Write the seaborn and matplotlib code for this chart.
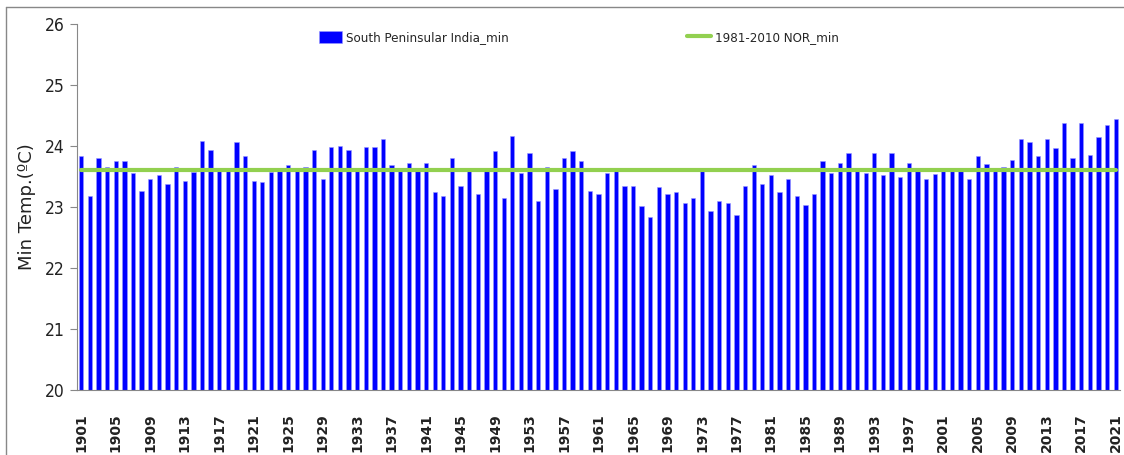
import matplotlib
matplotlib.use("Agg")
import matplotlib.pyplot as plt
import seaborn as sns
import numpy as np
import pandas as pd
from matplotlib.lines import Line2D

years = list(range(1901, 2022))
values = [
    23.84, 23.18, 23.81, 23.66, 23.75, 23.75, 23.55, 23.26, 23.46, 23.52,  # 1901-1910
    23.38, 23.66, 23.43, 23.58, 24.09, 23.94, 23.60, 23.60, 24.06, 23.83,  # 1911-1920
    23.43, 23.41, 23.58, 23.60, 23.69, 23.60, 23.66, 23.94, 23.46, 23.98,  # 1921-1930
    24.00, 23.94, 23.60, 23.98, 23.98, 24.12, 23.69, 23.60, 23.72, 23.60,  # 1931-1940
    23.72, 23.24, 23.18, 23.81, 23.35, 23.60, 23.21, 23.60, 23.92, 23.15,  # 1941-1950
    24.17, 23.55, 23.89, 23.10, 23.66, 23.29, 23.81, 23.92, 23.75, 23.26,  # 1951-1960
    23.21, 23.55, 23.60, 23.35, 23.35, 23.01, 22.84, 23.32, 23.21, 23.24,  # 1961-1970
    23.07, 23.15, 23.60, 22.93, 23.10, 23.07, 22.87, 23.35, 23.69, 23.38,  # 1971-1980
    23.52, 23.24, 23.46, 23.18, 23.03, 23.21, 23.75, 23.55, 23.72, 23.89,  # 1981-1990
    23.60, 23.55, 23.89, 23.52, 23.89, 23.49, 23.72, 23.60, 23.46, 23.54,  # 1991-2000
    23.60, 23.60, 23.60, 23.46, 23.83, 23.71, 23.60, 23.66, 23.77, 24.12,  # 2001-2010
    24.06, 23.83, 24.12, 23.97, 24.37, 23.80, 24.37, 23.86, 24.14, 24.34,  # 2011-2020
    24.45,                                                                 # 2021
]
nor_min = 23.6
y_ticks = [20, 21, 22, 23, 24, 25, 26]
bar_label = "South Peninsular India_min"
line_label = "1981-2010 NOR_min"

sns.set_style("white")

df = pd.DataFrame({"year": [str(y) for y in years], "value": values})

W, H = 1124, 455
fig = plt.figure(figsize=(W / 100, H / 100), dpi=100)
ax = fig.add_axes([77 / W, 1 - 390 / H, (1120 - 77) / W, (390 - 24) / H])

sns.barplot(data=df, x="year", y="value", color="#0000FF", saturation=1,
            width=0.5, ax=ax, label=bar_label, edgecolor="#9999ff", linewidth=0.4)
xpos = np.arange(len(years))
ax.plot(xpos, [nor_min] * len(years), color="#92D050", lw=3, label=line_label, zorder=3)

ax.set_xlim(-0.5, len(years) - 0.5)
ax.set_ylim(y_ticks[0], y_ticks[-1])
ax.set_yticks(y_ticks)
ax.set_yticklabels([str(t) for t in y_ticks], family="DejaVu Sans", fontstretch="condensed",
                   fontsize=12.5, color="#222222")

major = list(range(0, len(years), 4))
ax.set_xticks(major)
ax.set_xticklabels([str(years[i]) for i in major], rotation=90, family="DejaVu Sans",
                   fontweight="bold", fontsize=10, color="#222222")
ax.set_xticks(np.arange(-0.5, len(years), 1), minor=True)
ax.tick_params(axis="x", which="major", length=0, pad=17)
ax.tick_params(axis="x", which="minor", length=5, color="#888888", width=0.8, direction="out")
ax.tick_params(axis="y", which="major", length=5, color="#888888", width=0.8, direction="out", left=True, pad=4)

ax.set_xlabel("")
ax.set_ylabel("Min Temp.(\u00baC)", fontsize=13, family="DejaVu Sans", color="#222222", labelpad=6)

for s in ["top", "right"]:
    ax.spines[s].set_visible(False)
for s in ["left", "bottom"]:
    ax.spines[s].set_color("#888888")
    ax.spines[s].set_linewidth(0.8)

handles, labels = ax.get_legend_handles_labels()
order = [labels.index(bar_label), labels.index(line_label)]
leg = ax.legend([handles[i] for i in order], [labels[i] for i in order],
                ncol=2, loc="upper center", bbox_to_anchor=(0.481, 1.0), frameon=False,
                prop={"family": "DejaVu Sans", "stretch": "condensed", "size": 9.5},
                columnspacing=13.5, handlelength=1.8,
                handleheight=1.1, handletextpad=0.3, borderaxespad=0.1)

fig.add_artist(Line2D([6 / W, 6 / W], [0, 1 - 7 / H], color="#888888", lw=1))
fig.add_artist(Line2D([6 / W, 1], [1 - 7 / H, 1 - 7 / H], color="#888888", lw=1))

fig.savefig("out.png", dpi=100)
